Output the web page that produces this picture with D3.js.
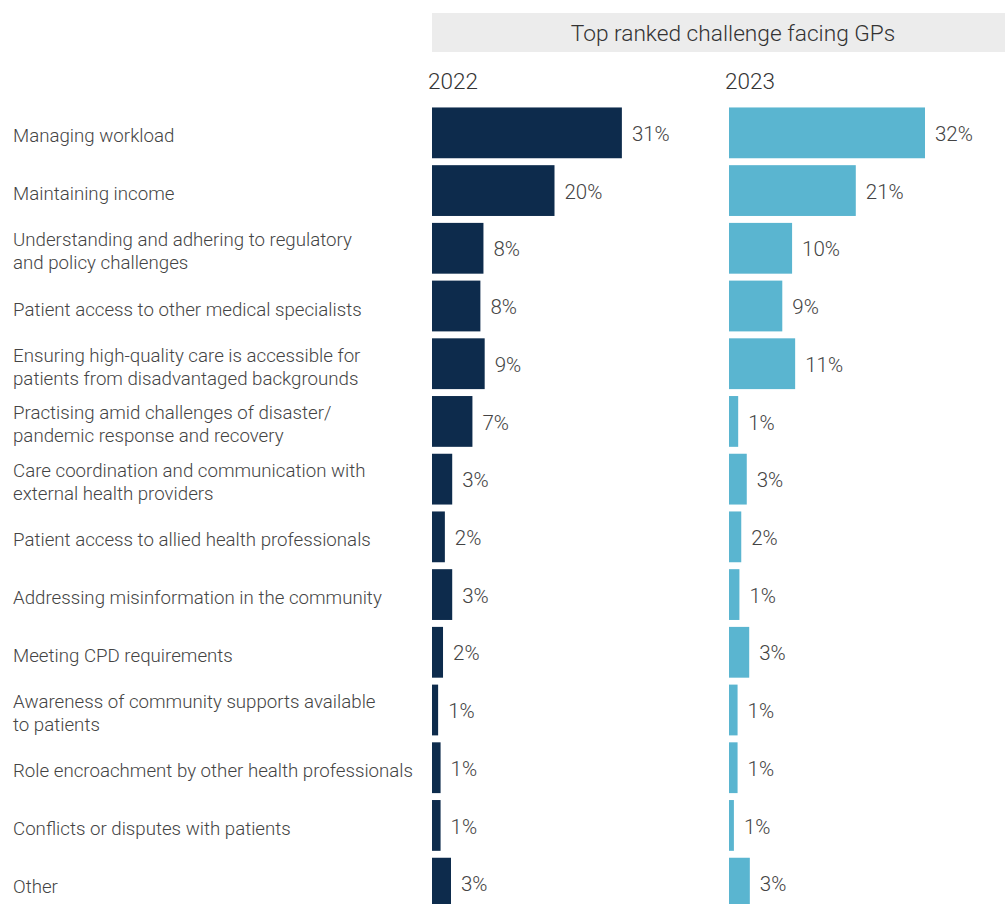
<!DOCTYPE html>
<html><head><meta charset="utf-8">
<script src="https://cdn.jsdelivr.net/npm/d3@7"></script>
<style>
html,body{margin:0;padding:0;background:#fff;}
svg{display:block;font-family:Roboto,"Noto Sans",sans-serif;}
</style></head><body>
<svg id="chart" width="1005" height="904"></svg>
<script>
const categories = [
  "Managing workload",
  "Maintaining income",
  "Understanding and adhering to regulatory|and policy challenges",
  "Patient access to other medical specialists",
  "Ensuring high-quality care is accessible for|patients from disadvantaged backgrounds",
  "Practising amid challenges of disaster/|pandemic response and recovery",
  "Care coordination and communication with|external health providers",
  "Patient access to allied health professionals",
  "Addressing misinformation in the community",
  "Meeting CPD requirements",
  "Awareness of community supports available|to patients",
  "Role encroachment by other health professionals",
  "Conflicts or disputes with patients",
  "Other"
];
const years = ["2022", "2023"];
const values2022 = [31, 20, 8.4, 7.9, 8.6, 6.6, 3.3, 2.1, 3.3, 1.8, 1.0, 1.4, 1.4, 3.1];
const values2023 = [32, 20.7, 10.3, 8.7, 10.8, 1.5, 2.9, 2.0, 1.7, 3.3, 1.4, 1.4, 0.8, 3.4];
const labels2022 = ["31%","20%","8%","8%","9%","7%","3%","2%","3%","2%","1%","1%","1%","3%"];
const labels2023 = ["32%","21%","10%","9%","11%","1%","3%","2%","1%","3%","1%","1%","1%","3%"];
const title = "Top ranked challenge facing GPs";

const svg = d3.select("#chart");
const colors = ["#0d2b4c", "#5ab5d0"];
const panelX = [432, 729];

// title band
svg.append("rect").attr("x", 432).attr("y", 13).attr("width", 573).attr("height", 39).attr("fill", "#ececec");
svg.append("text").attr("x", 733).attr("y", 33).attr("dy", "0.35em").attr("text-anchor", "middle")
  .attr("font-size", 22.7).attr("font-weight", 300).attr("fill", "#333").text(title);

const y = d3.scaleBand().domain(categories).range([104, 912]).paddingInner(0.12).paddingOuter(0.06);
const x = d3.scaleLinear().domain([0, 32]).range([0, 196]);

// category labels
const lab = svg.append("g");
categories.forEach(c => {
  const lines = c.split("|");
  const cy = y(c) + y.bandwidth() / 2;
  const t = lab.append("text").attr("x", 13).attr("font-size", 18.7).attr("font-weight", 300).attr("fill", "#444");
  lines.forEach((l, i) => {
    t.append("tspan").attr("x", 13)
      .attr("y", cy + (i - (lines.length - 1) / 2) * 23 + 3)
      .attr("dy", "0.35em").text(l);
  });
});

const series = [values2022, values2023];
const seriesLabels = [labels2022, labels2023];
years.forEach((yr, k) => {
  const g = svg.append("g").attr("transform", `translate(${panelX[k]},0)`);
  g.append("text").attr("x", -4).attr("y", 81).attr("dy", "0.35em")
    .attr("font-size", 22.5).attr("font-weight", 300).attr("fill", "#333").text(yr);
  g.selectAll("rect.bar").data(categories).join("rect").attr("class", "bar")
    .attr("x", 0).attr("y", d => y(d)).attr("height", y.bandwidth())
    .attr("width", (d, i) => x(series[k][i])).attr("fill", colors[k]);
  g.selectAll("text.val").data(categories).join("text").attr("class", "val")
    .attr("x", (d, i) => x(series[k][i]) + 10)
    .attr("y", d => y(d) + y.bandwidth() / 2 + 1).attr("dy", "0.35em")
    .attr("font-size", 20.5).attr("font-weight", 300).attr("fill", "#444")
    .text((d, i) => seriesLabels[k][i]);
});
</script>
</body></html>
